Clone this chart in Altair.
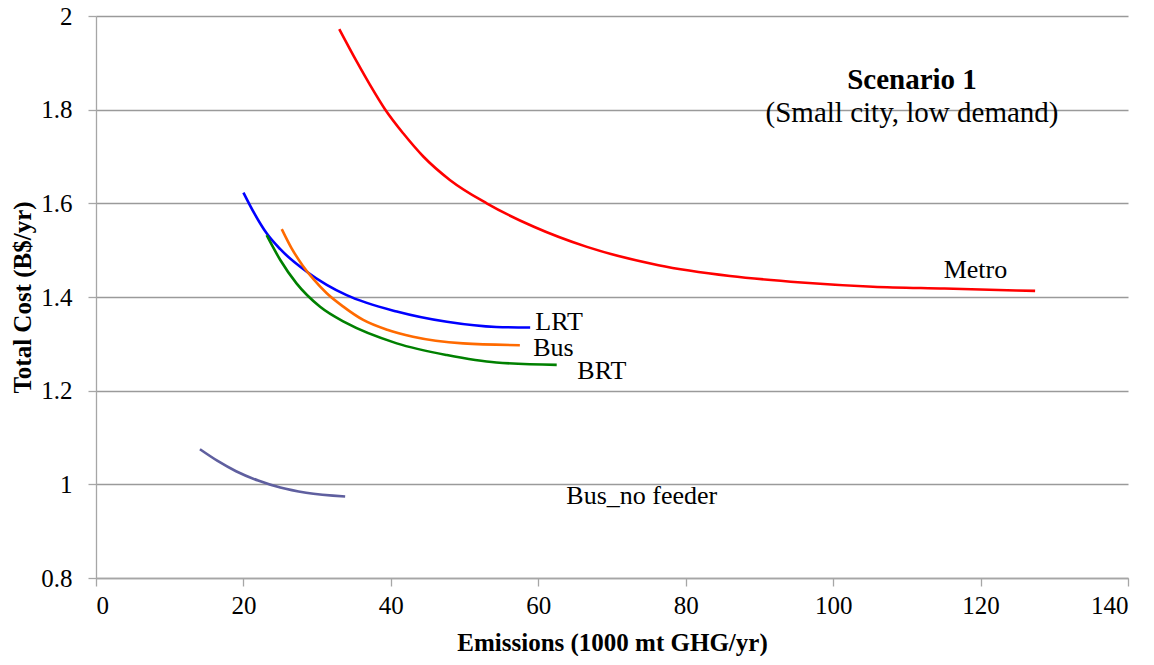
import altair as alt
import pandas as pd

# ---- data ----
metro_x = [33.0, 35.36, 37.17, 39.2, 41.7, 44.4, 48.0, 53.0, 59.4, 66.6, 76.3, 86.0, 95.7, 105.4, 115.1, 127.4]
metro_y = [1.972, 1.903, 1.853, 1.801, 1.749, 1.700, 1.650, 1.600, 1.550, 1.507, 1.468, 1.445, 1.431, 1.422, 1.418, 1.413]

lrt_x = [20.0, 21.5, 23.15, 25.0, 28.6, 31.3, 34.0, 40.8, 47.6, 54.3, 58.9]
lrt_y = [1.623, 1.578, 1.536, 1.502, 1.454, 1.426, 1.404, 1.369, 1.347, 1.336, 1.335]

bus_x = [25.2, 26.5, 28.0, 29.5, 31.3, 33.5, 36.25, 39.5, 43.0, 49.8, 57.5]
bus_y = [1.545, 1.505, 1.468, 1.438, 1.408, 1.380, 1.351, 1.330, 1.315, 1.301, 1.297]

brt_x = [23.15, 25.0, 27.2, 30.4, 34.0, 40.8, 47.6, 54.3, 62.5]
brt_y = [1.532, 1.479, 1.429, 1.379, 1.344, 1.301, 1.276, 1.260, 1.255]

nof_x = [14.1, 16.5, 19.0, 22.0, 25.0, 28.5, 33.8]
nof_y = [1.075, 1.050, 1.028, 1.008, 0.993, 0.982, 0.974]

series_names = ["Metro", "LRT", "Bus", "BRT", "Bus_no feeder"]
series_colors = ["#ff0000", "#0000ff", "#ff6a00", "#008000", "#5f5f9f"]

label_text = ["Metro", "LRT", "Bus", "BRT", "Bus_no feeder"]
label_x = [115.0, 59.6, 59.3, 65.3, 63.8]
label_y = [1.458, 1.347, 1.291, 1.243, 0.975]

title_text = ["Scenario 1", "(Small city, low demand)"]
title_x = [110.7, 110.7]
title_y = [1.863, 1.792]
title_weight = ["bold", "normal"]

# ---- build tables ----
rows = []
for name, xs, ys in zip(series_names,
                        [metro_x, lrt_x, bus_x, brt_x, nof_x],
                        [metro_y, lrt_y, bus_y, brt_y, nof_y]):
    for i, (a, b) in enumerate(zip(xs, ys)):
        rows.append({"series": name, "x": a, "y": b, "order": i})
df = pd.DataFrame(rows)
labels = pd.DataFrame({"text": label_text, "x": label_x, "y": label_y})
titles = pd.DataFrame({"text": title_text, "x": title_x, "y": title_y, "w": title_weight})

FONT = "Liberation Serif"

xscale = alt.Scale(domain=[0, 140], nice=False, zero=False)
yscale = alt.Scale(domain=[0.8, 2.0], nice=False, zero=False)

lines = alt.Chart(df).mark_line(strokeWidth=2.6, interpolate="monotone").encode(
    x=alt.X("x:Q", scale=xscale,
            axis=alt.Axis(title="Emissions (1000 mt GHG/yr)", values=[0, 20, 40, 60, 80, 100, 120, 140],
                          grid=False, tickSize=8, labelPadding=7, titlePadding=12, format="d")),
    y=alt.Y("y:Q", scale=yscale,
            axis=alt.Axis(title="Total Cost (B$/yr)", values=[0.8, 1.0, 1.2, 1.4, 1.6, 1.8, 2.0],
                          grid=True, tickSize=8, labelPadding=16, titlePadding=5, format="~g")),
    color=alt.Color("series:N", scale=alt.Scale(domain=series_names, range=series_colors), legend=None),
    detail="series:N",
    order="order:Q",
)

text = alt.Chart(labels).mark_text(align="left", baseline="middle", font=FONT, fontSize=26, color="black").encode(
    x="x:Q", y="y:Q", text="text:N"
)

ttl_bold = alt.Chart(titles[titles.w == "bold"]).mark_text(align="center", baseline="middle", font=FONT,
                                                           fontSize=29, fontWeight="bold", color="black").encode(
    x="x:Q", y="y:Q", text="text:N"
)
ttl_norm = alt.Chart(titles[titles.w == "normal"]).mark_text(align="center", baseline="middle", font=FONT,
                                                             fontSize=29, color="black").encode(
    x="x:Q", y="y:Q", text="text:N"
)

chart = alt.layer(lines, text, ttl_bold, ttl_norm).properties(
    width=1032, height=562,
    autosize=alt.AutoSizeParams(type="none"),
    padding={"left": 88, "top": 8, "right": 10, "bottom": 78},
).configure_view(stroke=None).configure_axis(
    labelFont=FONT, labelFontSize=25, labelColor="black",
    titleFont=FONT, titleFontSize=25, titleFontWeight="bold", titleColor="black",
    domainColor="#a6a6a6", tickColor="#a6a6a6", gridColor="#9a9a9a", domainWidth=1.3, gridWidth=1.3, tickWidth=1.3,
)

chart.save("out.html", embed_options={"renderer": "svg", "actions": False})
